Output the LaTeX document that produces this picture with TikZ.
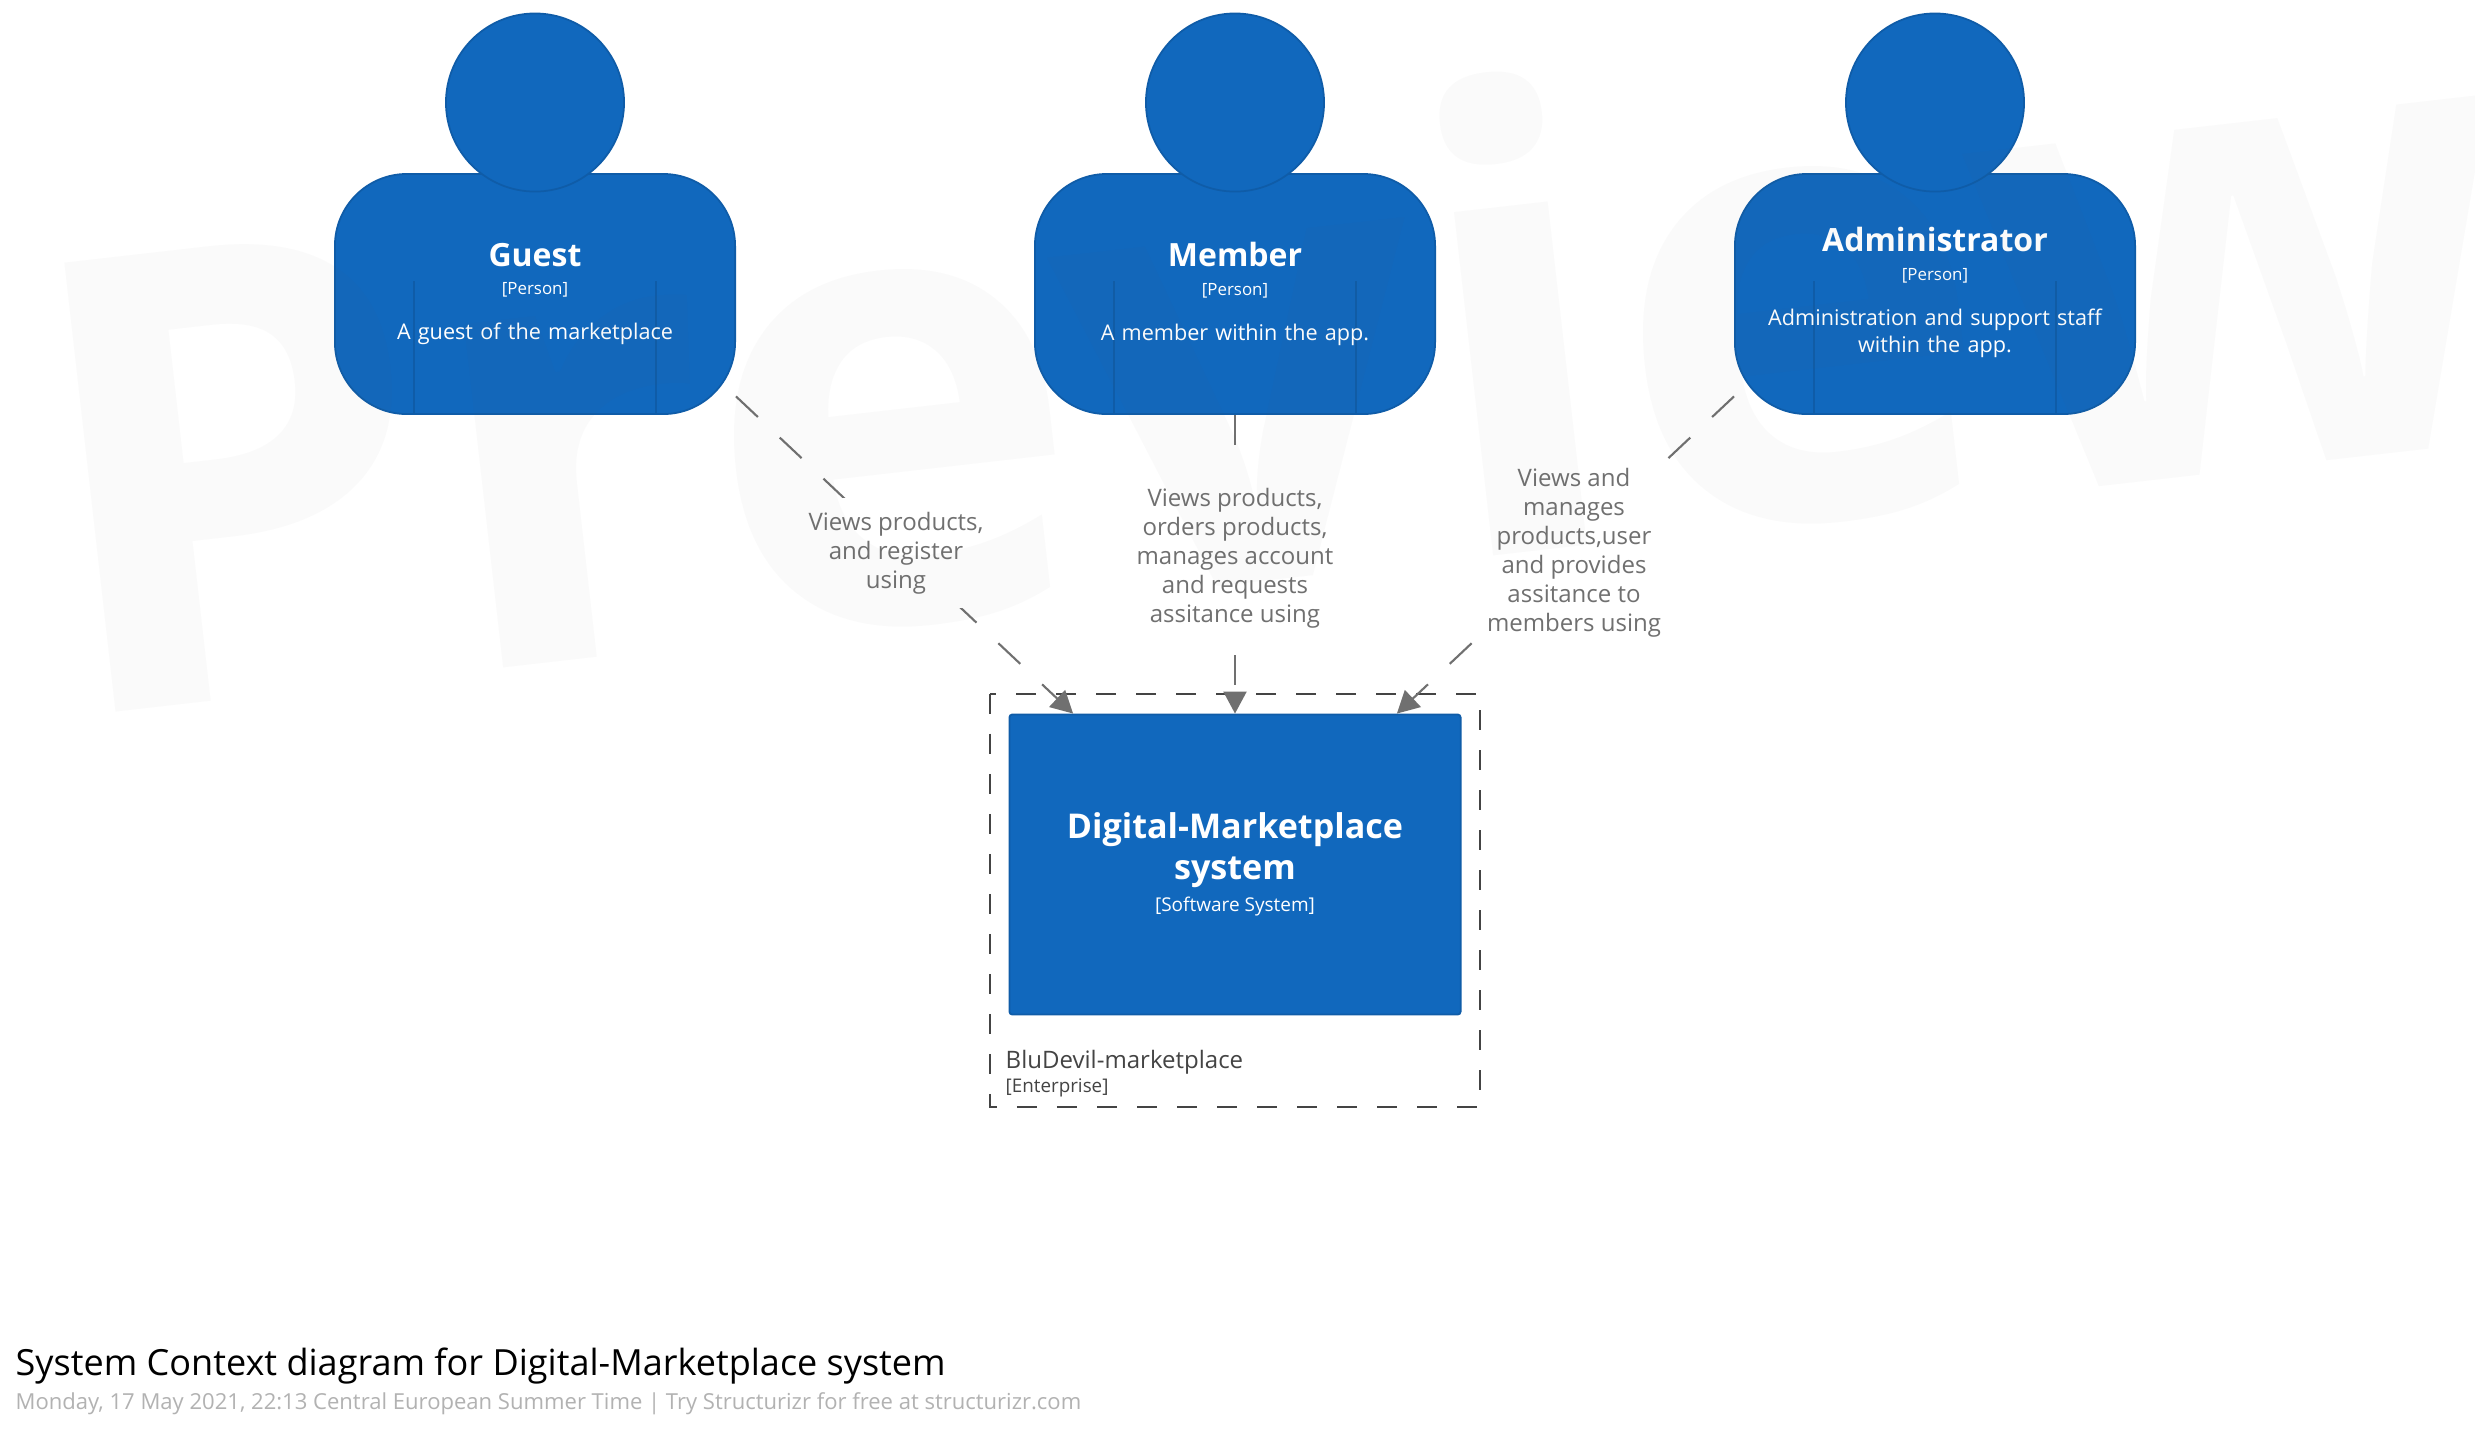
\documentclass[tikz,border=0pt]{standalone}
\usepackage{fontspec}
\setmainfont{Open Sans}
\usetikzlibrary{arrows.meta,positioning}

\definecolor{sysblue}{HTML}{1168BD}
\definecolor{sysedge}{HTML}{0F5CA8}
\definecolor{linkgrey}{HTML}{707070}
\definecolor{boxgrey}{HTML}{444444}

\tikzset{
  person/.style={draw=sysedge, fill=sysblue, line width=.5pt, rounded corners=.72cm,
    minimum width=4cm, minimum height=2.4cm, inner sep=0pt},
  head/.style={circle, draw=sysedge, fill=sysblue, line width=.5pt, minimum size=1.78cm, inner sep=0pt},
  persontext/.style={text=white, align=center, inner sep=0pt, text width=3.7cm, font=\fontsize{6.15}{7.8}\selectfont},
  system/.style={draw=sysedge, fill=sysblue, rounded corners=.03cm, line width=.5pt,
    minimum width=4.51cm, minimum height=3cm, inner sep=0pt},
  link/.style={draw=linkgrey, line width=.6pt, dash pattern=on .3cm off .3cm, -{Triangle[length=.22cm,width=.23cm,fill=linkgrey]}},
  linklabel/.style={fill=white, text=linkgrey, font=\fontsize{6.83}{8.25}\selectfont, align=center, inner xsep=.06cm, inner ysep=.135cm},
  caption/.style={inner sep=0pt, anchor=base west}
}
\newcommand{\nametext}[1]{{\fontsize{9.1}{11}\selectfont\bfseries #1}}
\newcommand{\kindtext}[1]{{\fontsize{4.8}{6}\selectfont[#1]}}
\newcommand{\systext}[1]{{\fontsize{9.7}{11.5}\selectfont\bfseries #1}}

\begin{document}
\begin{tikzpicture}[x=.01cm, y=-.01cm]
  \useasboundingbox (0,0) rectangle (2475,1435);
  \fill[white] (0,0) rectangle (2475,1435);

  % enterprise boundary
  \draw[boxgrey, line width=.57pt, dash pattern=on .2cm off .2cm] (990,693.7) rectangle (1480,1107);
  \node[caption, text=boxgrey, font=\fontsize{6.83}{8}\selectfont] (bluedevil) at (1005,1068) {BluDevil-marketplace};
  \node[caption, text=boxgrey, font=\fontsize{5.35}{6}\selectfont] (enterprise) at (1005,1092.5) {[Enterprise]};

  % system
  \node[system] (sys) at (1235,864.5) {};
  \node[text=white, align=center, inner sep=0pt, font=\fontsize{9.7}{11.5}\selectfont] (systext) at (1235,864.5) {\systext{Digital-Marketplace}\\\systext{system}\\[-2.4pt]{\fontsize{5.4}{6}\selectfont[Software System]}};

  % people
  \node[person] (guest) at (535,294) {};
  \node[head] (guesthead) at (535,102.5) {};
  \node[person] (member) at (1235,294) {};
  \node[head] (memberhead) at (1235,102.5) {};
  \node[person] (admin) at (1935,294) {};
  \node[head] (adminhead) at (1935,102.5) {};
  \foreach \p in {guest,member,admin}
    \draw[sysedge, line width=.4pt] (\p.south west) ++(80,0) -- ++(0,-134)
      (\p.south east) ++(-80,0) -- ++(0,-134);

  \node[persontext] (guesttext) at (guest) {\nametext{Guest}\\[.25pt]\kindtext{Person}\\[5pt]A guest of the marketplace};
  \node[persontext] (membertext) at (member) {\nametext{Member}\\[.25pt]\kindtext{Person}\\[5pt]A member within the app.};
  \node[persontext] (admintext) at ([yshift=.015cm]admin.center) {\nametext{Administrator}\\[.25pt]\kindtext{Person}\\[5pt]Administration and support staff\\within the app.};

  % links
  \draw[link] (guest.-27.7) -- (sys.137);
  \draw[link] (member.south) -- (sys.north);
  \draw[link] (admin.207.7) -- (sys.43);
  \node[linklabel] (guestlink) at (896,553) {Views products,\\and register\\using};
  \node[linklabel] (memberlink) at (1235,558) {Views products,\\orders products,\\manages account\\and requests\\assitance using};
  \node[linklabel] (adminlink) at (1574,553) {Views and\\manages\\products,user\\and provides\\assitance to\\members using};

  % title
  \node[caption, font=\fontsize{10.25}{12}\selectfont] (title) at (15,1375) {System Context diagram for Digital-Marketplace system};
  \node[caption, text=black!30, font=\fontsize{6.27}{8}\selectfont] (subtitle) at (15,1409) {Monday, 17 May 2021, 22:13 Central European Summer Time | Try Structurizr for free at structurizr.com};

  % watermark
  \begin{scope}
    \clip (0,0) rectangle (2475,1435);
    \node[rotate=6.5, opacity=.03, text=black!60, font=\fontsize{180}{200}\selectfont\bfseries, inner sep=0pt] (preview) at (1270,342) {Preview};
  \end{scope}
\end{tikzpicture}
\end{document}
